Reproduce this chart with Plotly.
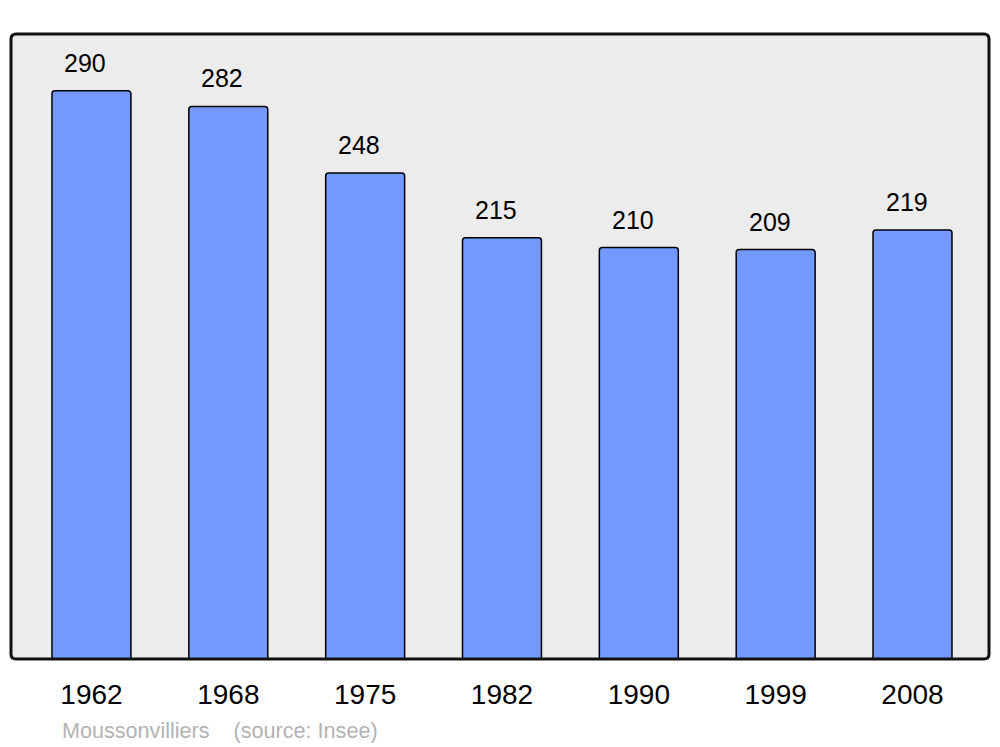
import plotly.graph_objects as go

years = ["1962", "1968", "1975", "1982", "1990", "1999", "2008"]
population = [290, 282, 248, 215, 210, 209, 219]
footer_text = "Moussonvilliers\u00a0\u00a0\u00a0\u00a0(source: Insee)"

# the page body adds an 8px offset; compensate
W, H = 992, 739
L, R, T, B = 3, 11, 26, 88
pw, ph = W - L - R, H - T - B

xpos = list(range(len(years)))

fig = go.Figure()
fig.add_trace(go.Bar(
    x=xpos, y=population, width=0.577,
    marker=dict(color="#7399ff", line=dict(color="#000000", width=1.5), cornerradius=3),
    hoverinfo="skip",
))

for xi, v in zip(xpos, population):
    fig.add_annotation(x=xi, y=v, text=str(v), showarrow=False,
                       xshift=-6, yshift=28, yanchor="middle",
                       font=dict(family="Liberation Sans, Arial", size=25, color="#000000"))

# rounded frame
rx, ry = 5 / pw, 5 / ph
path = (f"M {rx},0 L {1-rx},0 Q 1,0 1,{ry} L 1,{1-ry} Q 1,1 {1-rx},1 "
        f"L {rx},1 Q 0,1 0,{1-ry} L 0,{ry} Q 0,0 {rx},0 Z")
fig.add_shape(type="path", path=path, xref="paper", yref="paper",
              fillcolor="#ececec", line=dict(width=0), layer="below")
fig.add_shape(type="path", path=path, xref="paper", yref="paper",
              fillcolor="rgba(0,0,0,0)", line=dict(color="#111111", width=3), layer="above")

fig.add_annotation(xref="paper", yref="paper", x=(52 - L) / pw, y=-(722 - (T + ph)) / ph,
                   xanchor="left", yanchor="middle", showarrow=False, text=footer_text,
                   font=dict(family="Liberation Sans, Arial", size=21.6, color="#b3b3b3"))

fig.update_layout(
    width=W, height=H,
    margin=dict(l=L, r=R, t=T, b=B, pad=0),
    paper_bgcolor="white", plot_bgcolor="rgba(0,0,0,0)",
    showlegend=False,
    xaxis=dict(range=[-0.588, 6.559], tickvals=xpos, ticktext=years,
               showgrid=False, zeroline=False, showline=False,
               ticks="outside", ticklen=10, tickcolor="rgba(0,0,0,0)",
               tickfont=dict(family="Liberation Sans, Arial", size=28, color="#000000")),
    yaxis=dict(range=[0, 319], showgrid=False, zeroline=False, showline=False,
               showticklabels=False, ticks=""),
)

fig.write_html("out.html")
